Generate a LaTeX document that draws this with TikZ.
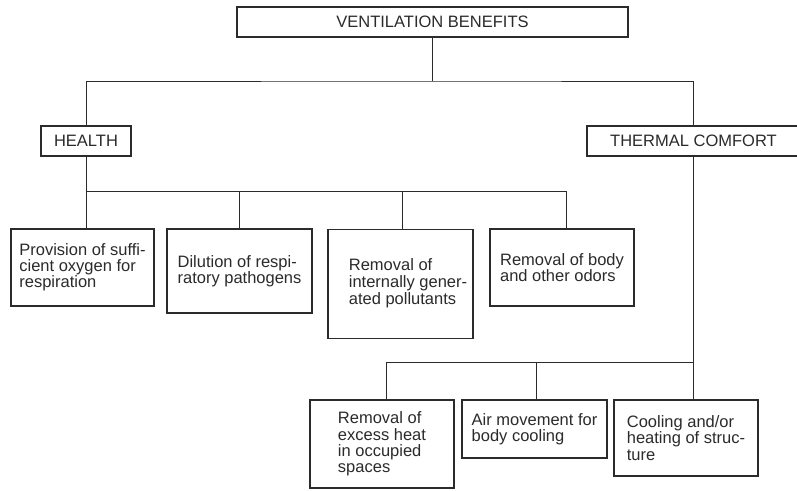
\documentclass[tikz,border=0pt]{standalone}
\usepackage{fontspec}
\setmainfont{Liberation Sans}
\definecolor{ink}{HTML}{2B2B2B}
\begin{document}
\begin{tikzpicture}[x=1pt,y=-1pt,
  every node/.style={font=\fontsize{16.5}{16.2}\selectfont, text=ink},
  box/.style={draw=ink, line width=1.1pt, inner sep=0pt, rectangle},
  leaf/.style={box, align=left},
  conn/.style={draw=ink, line width=0.9pt}]
\useasboundingbox (0,0) rectangle (797,490);
\fill[white] (0,0) rectangle (797,490);

\node[box, minimum width=391pt, minimum height=30pt] (top) at (432.5,22) {VENTILATION BENEFITS};
\node[box, minimum width=90pt, minimum height=30pt] (health) at (86,141) {HEALTH};
\node[box, minimum width=213pt, minimum height=30pt] (thermal) at (693.5,141) {THERMAL COMFORT};

\node[leaf, minimum width=143pt, minimum height=77pt] (b1) at (82.5,267.5) {Provision of suffi-\\cient oxygen for\\respiration};
\node[leaf, minimum width=145pt, minimum height=84pt] (b2) at (239.5,271) {Dilution of respi-\\ratory pathogens};
\node[leaf, minimum width=145pt, minimum height=109pt] (b3) at (400.5,284) {\hspace*{15pt}\begin{tabular}{@{}l@{}}Removal of\\internally gener-\\ated pollutants\end{tabular}};
\node[leaf, minimum width=144pt, minimum height=77pt] (b4) at (562,267.5) {Removal of body\\and other odors};

\node[leaf, minimum width=144pt, minimum height=88pt] (bA) at (382,444) {Removal of\\excess heat\\in occupied\\spaces};
\node[leaf, minimum width=145pt, minimum height=58pt] (bB) at (534.5,429) {Air movement for\\body cooling};
\node[leaf, minimum width=144pt, minimum height=76pt] (bC) at (686,438) {Cooling and/or\\heating of struc-\\ture};

% level 1
\coordinate (j1) at (432.5,81);
\draw[conn] (top.south) -- (j1);
\draw[conn] (health.north) |- (j1) -| (thermal.north);

% health children
\coordinate (j2r) at (566,191);
\draw[conn] (health.south) |- (j2r) -- (j2r |- b4.north);
\draw[conn] (health.south |- j2r) -- (health.south |- b1.north);
\draw[conn] (239,191) coordinate (s2) -- (s2 |- b2.north);
\draw[conn] (402,191) coordinate (s3) -- (s3 |- b3.north);

% thermal children
\coordinate (j3l) at (386,362);
\draw[conn] (thermal.south) -- (thermal.south |- bC.north);
\draw[conn] (thermal.south |- j3l) -- (j3l) -- (j3l |- bA.north);
\draw[conn] (536,362) coordinate (sB) -- (sB |- bB.north);
\end{tikzpicture}
\end{document}
